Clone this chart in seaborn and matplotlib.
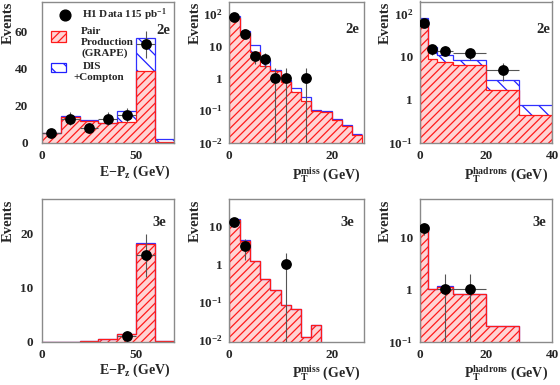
import numpy as np
import matplotlib
matplotlib.use('Agg')
import matplotlib.pyplot as plt
import seaborn as sns
from matplotlib.patches import Rectangle
from matplotlib.ticker import FuncFormatter, MultipleLocator, LogLocator, NullFormatter

sns.set_style('white')
plt.rcParams['font.family'] = ['Liberation Serif', 'DejaVu Serif']
plt.rcParams['font.weight'] = 'bold'
plt.rcParams['mathtext.fontset'] = 'custom'
plt.rcParams['mathtext.rm'] = 'Liberation Serif:bold'
plt.rcParams['mathtext.it'] = 'Liberation Serif:bold'
plt.rcParams['mathtext.bf'] = 'Liberation Serif:bold'
plt.rcParams['hatch.linewidth'] = 0.9

# ---------------- data ----------------
epz_edges = [0, 10, 20, 30, 40, 50, 60, 70]
ptmiss_edges = [0, 2, 4, 6, 8, 10, 12, 14, 16, 18, 20, 22, 24, 26]
pthad_edges = [0, 2.5, 5, 10, 20, 30, 40]

# 2e
epz2_pair = [5, 14, 11.8, 10.4, 11.4, 38.4, 0.5]
epz2_total = [5, 14.6, 12, 10.5, 17, 56.4, 1.8]
epz2_x = [5, 15, 25, 35, 45, 55]
epz2_y = [5, 13, 8, 13, 15, 53]

ptmiss2_pair = [74, 26, 6.3, 2.4, 1.7, 0.75, 0.36, 0.19, 0.095, 0.09, 0.05, 0.032, 0.017]
ptmiss2_total = [89, 30, 11, 3.6, 1.8, 0.85, 0.5, 0.26, 0.1, 0.095, 0.052, 0.034, 0.018]
ptmiss2_x = [1, 3, 5, 7, 9, 11, 15]
ptmiss2_y = [80, 24, 5, 4, 1, 1, 1]

pthad2_pair = [60, 9.1, 7.6, 6.3, 1.7, 0.43]
pthad2_total = [79, 17, 11, 8.3, 2.9, 0.76]
pthad2_x = [1.25, 3.75, 7.5, 15, 25]
pthad2_y = [63, 15, 14, 12, 5]

# 3e
epz3_pair = [0, 0, 0.2, 0.5, 1.4, 18.1, 0.05]
epz3_total = [0, 0, 0.2, 0.5, 1.45, 18.3, 0.08]
epz3_x = [45, 55]
epz3_y = [1, 16]

ptmiss3_pair = [15, 4.0, 1.2, 0.39, 0.2, 0.08, 0.063, 0.012, 0.025, 0, 0, 0, 0]
ptmiss3_total = [15.2, 4.3, 1.2, 0.39, 0.2, 0.08, 0.063, 0.012, 0.025, 0, 0, 0, 0]
ptmiss3_x = [1, 3, 11]
ptmiss3_y = [13, 3, 1]

pthad3_pair = [16.5, 1.0, 1.1, 0.8, 0.2, 0]
pthad3_total = [16.7, 1.0, 1.17, 0.83, 0.2, 0]
pthad3_x = [1.25, 7.5, 15]
pthad3_y = [15, 1, 1]

xlabel_epz = r'E$-$P$_{z}$ (GeV)'
xlabel_ptmiss = r'P$_{\mathrm{T}}^{\mathrm{miss}}$ (GeV)'
xlabel_pthad = r'P$_{\mathrm{T}}^{\mathrm{hadrons}}$ (GeV)'

# ---------------- figure ----------------
W, H = 560, 385
fig = plt.figure(figsize=(5.6, 3.85), dpi=100)

def axes_px(x0, x1, ytop, ybot):
    return fig.add_axes([x0 / W, 1 - ybot / H, (x1 - x0) / W, (ybot - ytop) / H])

GREY = '#8a8a8a'
RED = '#ff1a1a'
BLUE = '#2020ff'

def logfmt(v, pos):
    e = int(round(np.log10(v)))
    if e == 0:
        return '1'
    if e == 1:
        return '10'
    return r'10$^{%d}$' % e

def style(ax, logy, xmajor, xminor, ymajor=None, yminor=None, ypad=5):
    for s in ax.spines.values():
        s.set_color(GREY)
        s.set_linewidth(1.0)
    ax.tick_params(which='both', direction='in', color=GREY, top=False, right=False,
                   labelsize=9.5, width=0.9)
    ax.tick_params(which='major', length=5)
    ax.tick_params(which='minor', length=3)
    ax.tick_params(axis='x', pad=5)
    ax.tick_params(axis='y', pad=ypad)
    ax.xaxis.set_major_locator(MultipleLocator(xmajor))
    ax.xaxis.set_minor_locator(MultipleLocator(xminor))
    if logy:
        ax.set_yscale('log')
        ax.yaxis.set_major_locator(LogLocator(base=10))
        ax.yaxis.set_minor_locator(LogLocator(base=10, subs=np.arange(2, 10)))
        ax.yaxis.set_major_formatter(FuncFormatter(logfmt))
        ax.yaxis.set_minor_formatter(NullFormatter())
    else:
        ax.yaxis.set_major_locator(MultipleLocator(ymajor))
        ax.yaxis.set_minor_locator(MultipleLocator(yminor))

def draw(ax, edges, pair, total, dx, dy, logy):
    edges = np.asarray(edges, float)
    pair = np.asarray(pair, float)
    total = np.asarray(total, float)
    ax.stairs(total, edges, baseline=pair, fill=True, facecolor='white',
              edgecolor=BLUE, hatch='\\\\', linewidth=0, zorder=1)
    ax.stairs(pair, edges, baseline=0, fill=True, facecolor='#ffd4d4',
              edgecolor=RED, hatch='////', linewidth=0, zorder=1.5)
    ax.stairs(total, edges, baseline=None, color='#3030ff', linewidth=0.9, zorder=2)
    ax.stairs(pair, edges, baseline=0, color=RED, linewidth=0.9, zorder=2.5)
    dx = np.asarray(dx, float)
    dy = np.asarray(dy, float)
    idx = np.searchsorted(edges, dx) - 1
    halfw = (edges[idx + 1] - edges[idx]) / 2
    err = np.sqrt(dy)
    lo = np.minimum(err, dy * 0.999)
    ax.errorbar(dx, dy, xerr=halfw, yerr=[lo, err], fmt='none', ecolor='#555555',
                elinewidth=0.8, capsize=0, zorder=3)
    sns.scatterplot(x=dx, y=dy, ax=ax, color='black', s=60, edgecolor='black',
                    linewidth=0, zorder=4, legend=False)

def labels(ax, ylab_x, xlab, tag, tag_pos, xlab_y):
    ax.text(ylab_x, 1.0, 'Events', rotation=90, ha='center', va='top',
            transform=ax.transAxes, fontsize=10.5, fontweight='bold')
    ax.text(0.97, xlab_y, xlab, ha='right', va='center', transform=ax.transAxes,
            fontsize=10, fontweight='bold')
    ax.text(tag_pos[0], tag_pos[1], tag, ha='center', va='center',
            transform=ax.transAxes, fontsize=10.5, fontweight='bold')
    ax.set_xlabel('')
    ax.set_ylabel('')

# top row
ax1 = axes_px(41.7, 174, 1.5, 142.7)
ax2 = axes_px(229.3, 364, 1.5, 142.7)
ax3 = axes_px(420, 552.3, 1.5, 142.7)
# bottom row
ax4 = axes_px(41.7, 174, 199.3, 341.7)
ax5 = axes_px(229.3, 364, 199.3, 341.7)
ax6 = axes_px(420, 552.3, 199.3, 341.7)

draw(ax1, epz_edges, epz2_pair, epz2_total, epz2_x, epz2_y, False)
ax1.set_xlim(0, 70); ax1.set_ylim(0, 76)
style(ax1, False, 50, 10, 20, 5, ypad=10)

draw(ax2, ptmiss_edges, ptmiss2_pair, ptmiss2_total, ptmiss2_x, ptmiss2_y, True)
ax2.set_xlim(0, 26.3); ax2.set_ylim(0.0098, 243)
style(ax2, True, 20, 2, ypad=5)

draw(ax3, pthad_edges, pthad2_pair, pthad2_total, pthad2_x, pthad2_y, True)
ax3.set_xlim(0, 40); ax3.set_ylim(0.099, 195)
style(ax3, True, 20, 5, ypad=5)

draw(ax4, epz_edges, epz3_pair, epz3_total, epz3_x, epz3_y, False)
ax4.set_xlim(0, 70); ax4.set_ylim(0, 26.4)
style(ax4, False, 50, 10, 10, 2, ypad=6)

draw(ax5, ptmiss_edges, ptmiss3_pair, ptmiss3_total, ptmiss3_x, ptmiss3_y, True)
ax5.set_xlim(0, 26.3); ax5.set_ylim(0.0088, 51.6)
style(ax5, True, 20, 2, ypad=5)

draw(ax6, pthad_edges, pthad3_pair, pthad3_total, pthad3_x, pthad3_y, True)
ax6.set_xlim(0, 40); ax6.set_ylim(0.099, 53.5)
style(ax6, True, 20, 5, ypad=5)

labels(ax1, -0.255, xlabel_epz, '2e', (0.917, 0.798), -0.21)
labels(ax2, -0.255, xlabel_ptmiss, '2e', (0.911, 0.805), -0.23)
labels(ax3, -0.26, xlabel_pthad, '2e', (0.93, 0.805), -0.23)
labels(ax4, -0.255, xlabel_epz, '3e', (0.887, 0.834), -0.2)
labels(ax5, -0.255, xlabel_ptmiss, '3e', (0.873, 0.834), -0.22)
labels(ax6, -0.26, xlabel_pthad, '3e', (0.9, 0.834), -0.22)

# legend in first panel
t = ax1.transAxes
ax1.scatter([0.176], [0.905], s=60, color='black', transform=t, zorder=6, clip_on=False)
ax1.text(0.305, 0.905, r'H1 Data 115 pb$^{-1}$', transform=t, ha='left', va='center',
         fontsize=8, fontweight='bold', zorder=6)
ax1.add_patch(Rectangle((0.07, 0.713), 0.113, 0.078, transform=t, facecolor='#ffd4d4',
                        edgecolor=RED, hatch='////', linewidth=0.9, zorder=6))
for txt, yy in [('Pair', 0.786), ('Production', 0.708), ('(GRAPE)', 0.637)]:
    ax1.text(0.298, yy, txt, transform=t, ha='left', va='center', fontsize=8,
             fontweight='bold', zorder=6)
ax1.add_patch(Rectangle((0.07, 0.5), 0.113, 0.064, transform=t, facecolor='white',
                        edgecolor=BLUE, hatch='\\\\', linewidth=0.9, zorder=6))
ax1.text(0.31, 0.538, 'DIS', transform=t, ha='left', va='center', fontsize=8,
         fontweight='bold', zorder=6)
ax1.text(0.243, 0.46, '+Compton', transform=t, ha='left', va='center', fontsize=8,
         fontweight='bold', zorder=6)

fig.savefig('out.png', dpi=100)
